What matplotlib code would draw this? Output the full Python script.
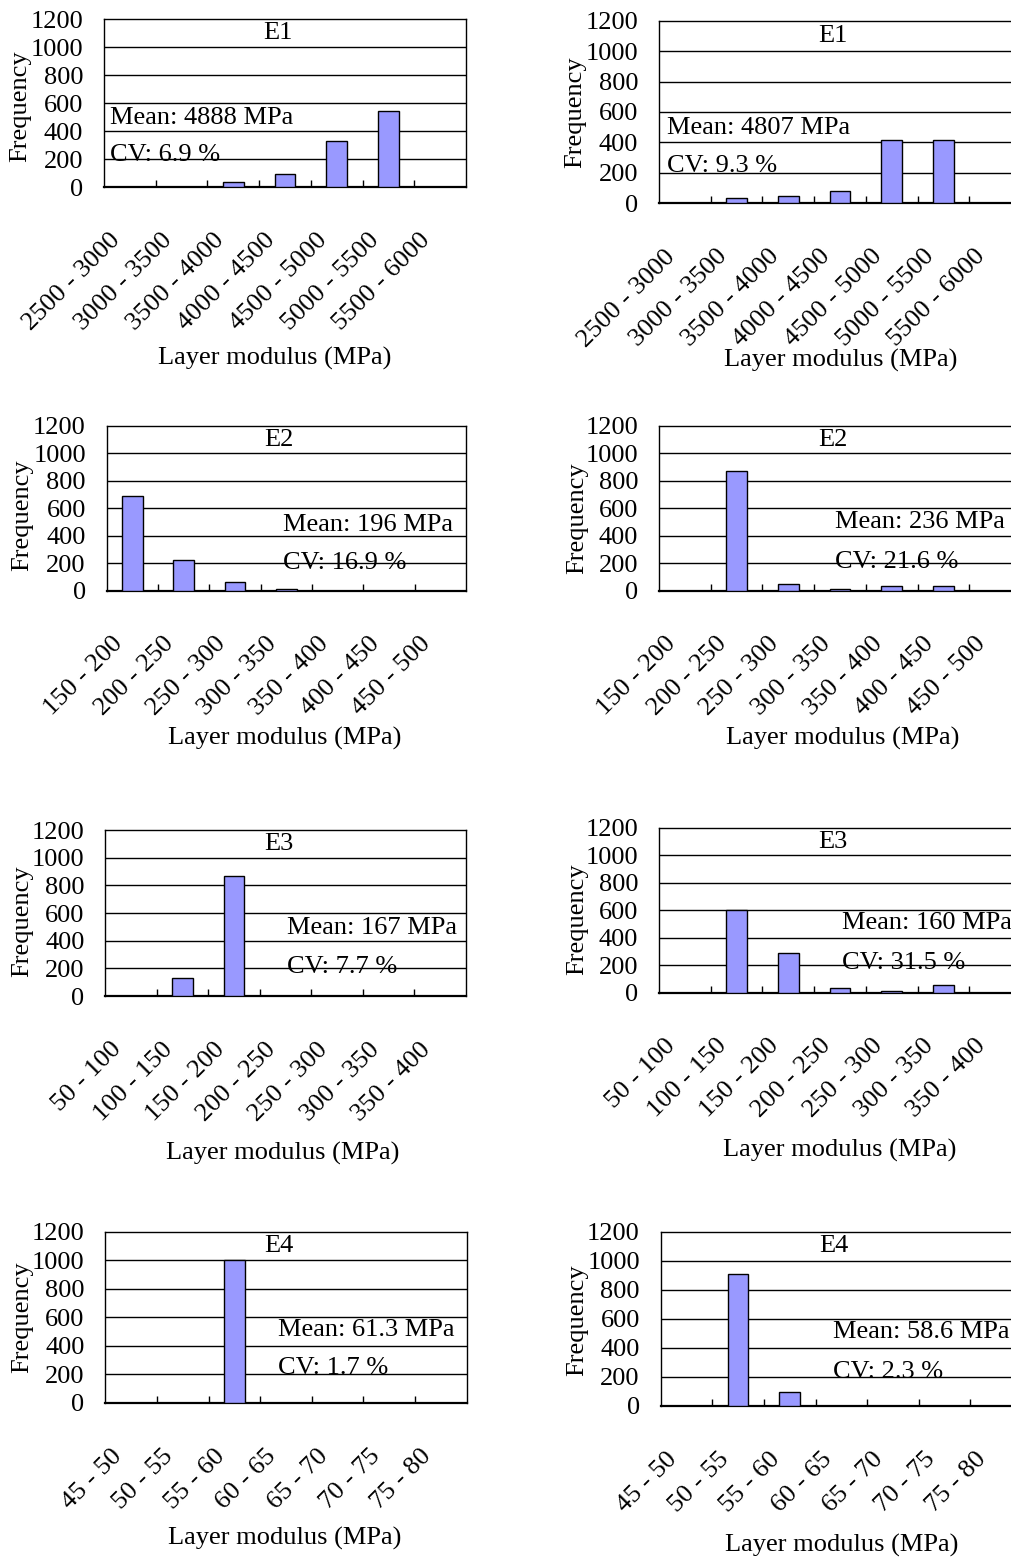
import matplotlib.pyplot as plt
from matplotlib.transforms import ScaledTranslation

plt.rcParams['font.family'] = 'Liberation Serif'
plt.rcParams['font.size'] = 19

W, H = 1012, 1557

# modulus classes for each layer
layers = ['E1', 'E2', 'E3', 'E4']
bins_e1 = ['2500 - 3000', '3000 - 3500', '3500 - 4000', '4000 - 4500',
           '4500 - 5000', '5000 - 5500', '5500 - 6000']
bins_e2 = ['150 - 200', '200 - 250', '250 - 300', '300 - 350',
           '350 - 400', '400 - 450', '450 - 500']
bins_e3 = ['50 - 100', '100 - 150', '150 - 200', '200 - 250',
           '250 - 300', '300 - 350', '350 - 400']
bins_e4 = ['45 - 50', '50 - 55', '55 - 60', '60 - 65',
           '65 - 70', '70 - 75', '75 - 80']

# frequencies, left column
freq_e1_a = [0, 0, 35, 92, 327, 546, 0]
freq_e2_a = [692, 220, 64, 10, 0, 0, 0]
freq_e3_a = [0, 132, 870, 0, 0, 0, 0]
freq_e4_a = [0, 0, 1000, 0, 0, 0, 0]
# frequencies, right column
freq_e1_b = [0, 37, 48, 79, 418, 418, 0]
freq_e2_b = [0, 868, 46, 12, 34, 34, 0]
freq_e3_b = [0, 598, 287, 32, 12, 56, 0]
freq_e4_b = [0, 906, 94, 0, 0, 0, 0]

mean_a = [4888, 196, 167, 61.3]
cv_a = [6.9, 16.9, 7.7, 1.7]
mean_b = [4807, 236, 160, 58.6]
cv_b = [9.3, 21.6, 31.5, 2.3]

bins = [bins_e1, bins_e2, bins_e3, bins_e4]
freq_a = [freq_e1_a, freq_e2_a, freq_e3_a, freq_e4_a]
freq_b = [freq_e1_b, freq_e2_b, freq_e3_b, freq_e4_b]

# panel boxes in pixels (left, top, right, bottom)
boxes_a = [(104, 19, 466, 187), (106.7, 425.7, 466, 590.7),
           (105.3, 830, 466, 996), (105.3, 1231.7, 466.7, 1402.7)]
boxes_b = [(659, 20.7, 1021, 203.3), (659, 425.7, 1021, 590.7),
           (659, 827.7, 1021, 992.7), (660.7, 1231.7, 1022, 1405.7)]
# stats text spots (axes x, mean y, cv y)
stat_a = [(0.017, 0.41, 0.19), (0.49, 0.398, 0.166),
          (0.505, 0.408, 0.177), (0.479, 0.425, 0.201)]
stat_b = [(0.021, 0.412, 0.204), (0.486, 0.418, 0.176),
          (0.505, 0.42, 0.178), (0.478, 0.422, 0.195)]
xlab_a = [(275, 358), (285, 738), (283, 1153), (285, 1538)]
xlab_b = [(841, 360), (843, 738), (840, 1150), (842, 1545)]
ylab_a = [(20, 106), (22, 515), (22, 921), (22, 1317)]
ylab_b = [(575, 112), (577, 518), (577, 919), (577, 1320)]

fig = plt.figure(figsize=(W / 100, H / 100), dpi=100)


def draw_panel(box, name, labels, counts, mean, cv, stat, xlab, ylab):
    l, t, r, b = box
    ax = fig.add_axes([l / W, 1 - b / H, (r - l) / W, (b - t) / H])
    x = list(range(len(labels)))
    ax.bar(x, counts, width=0.4, color='#9999FF', edgecolor='black',
           linewidth=1, zorder=3)
    ax.set_xlim(-0.5, len(labels) - 0.5)
    ax.set_ylim(0, 1200)
    ax.set_yticks(range(0, 1201, 200))
    ax.tick_params(axis='y', length=0, pad=15)
    for yv in range(200, 1001, 200):
        ax.axhline(yv, color='black', lw=1, zorder=1)
    # ticks sit on class boundaries, labels under class centres
    ax.set_xticks([])
    ax.set_xticks([i + 0.5 for i in x[:-1]], minor=True)
    ax.tick_params(axis='x', which='minor', direction='in', length=5,
                   width=1)
    off = ScaledTranslation(-0.13, -0.50, fig.dpi_scale_trans)
    for i, lab in zip(x, labels):
        ax.text(i, 0, lab, transform=ax.get_xaxis_transform() + off,
                rotation=45, rotation_mode='anchor', ha='right',
                va='center')
    for s in ['top', 'right', 'left']:
        ax.spines[s].set_linewidth(1)
    ax.spines['bottom'].set_linewidth(1.6)
    ax.text(0.48, 0.915, name, transform=ax.transAxes, ha='center',
            va='center')
    sx, my, cy = stat
    ax.text(sx, my, f'Mean: {mean:g} MPa', transform=ax.transAxes,
            va='center', zorder=4)
    ax.text(sx, cy, f'CV: {cv:g} %', transform=ax.transAxes,
            va='center', zorder=4)
    fig.text(xlab[0] / W, 1 - xlab[1] / H, 'Layer modulus (MPa)',
             ha='center', va='center')
    fig.text(ylab[0] / W, 1 - ylab[1] / H, 'Frequency', rotation=90,
             ha='center', va='center')


for k in range(4):
    draw_panel(boxes_a[k], layers[k], bins[k], freq_a[k], mean_a[k],
               cv_a[k], stat_a[k], xlab_a[k], ylab_a[k])
    draw_panel(boxes_b[k], layers[k], bins[k], freq_b[k], mean_b[k],
               cv_b[k], stat_b[k], xlab_b[k], ylab_b[k])

fig.savefig('out.png', dpi=100)
